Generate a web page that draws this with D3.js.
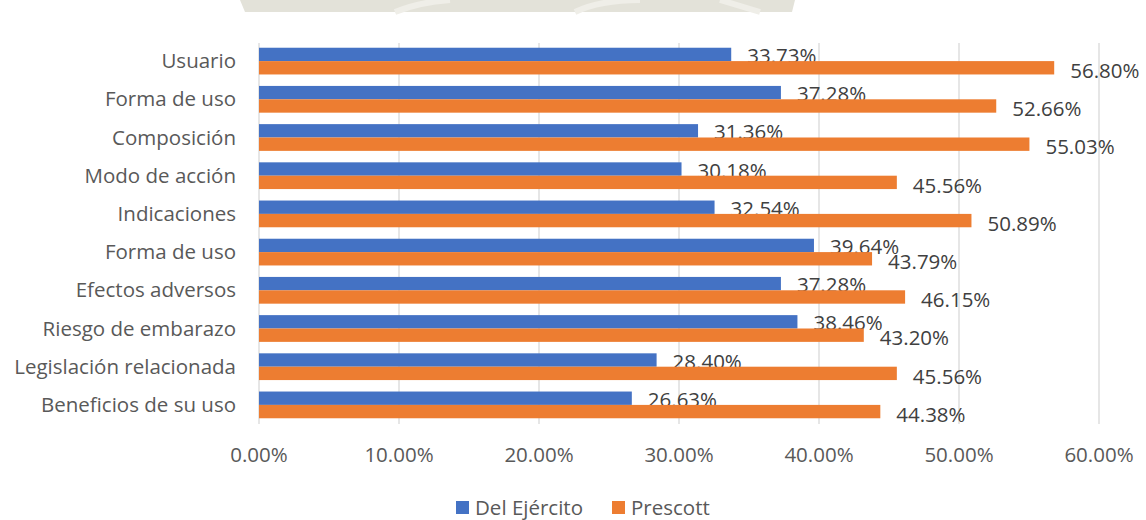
<!DOCTYPE html>
<html>
<head>
<meta charset="utf-8">
<script src="https://cdn.jsdelivr.net/npm/d3@7"></script>
<style>
  body { margin: 0; background: #fff; }
  svg text { font-family: "Open Sans", "Noto Sans", sans-serif; }
</style>
</head>
<body>
<svg id="chart"></svg>
<script>
const categories = ["Usuario", "Forma de uso", "Composición", "Modo de acción", "Indicaciones",
    "Forma de uso ", "Efectos adversos", "Riesgo de embarazo", "Legislación relacionada", "Beneficios de su uso"];
const delEjercito = [33.73, 37.28, 31.36, 30.18, 32.54, 39.64, 37.28, 38.46, 28.40, 26.63];
const prescott = [56.80, 52.66, 55.03, 45.56, 50.89, 43.79, 46.15, 43.20, 45.56, 44.38];
const seriesNames = ["Del Ejército", "Prescott"];
const xTicks = [0, 10, 20, 30, 40, 50, 60];

document.addEventListener("DOMContentLoaded", drawChart);

function drawChart() {
    const width = 1146;
    const height = 520;
    const colors = ["#4472c4", "#ed7d31"];
    const fontSize = 20.5;

    const svg = d3.select("svg#chart")
        .attr("width", width)
        .attr("height", height);

    // marca de agua arriba
    const wm = svg.append("g");
    wm.append("path")
        .attr("d", "M240,0 L795,0 L792,12 L245,12 Z")
        .attr("fill", "#e3e2d9");
    wm.append("path")
        .attr("d", "M395,12 Q420,2 450,0 M575,12 Q600,0 640,0 M720,0 Q740,6 760,12")
        .attr("stroke", "#efeee8")
        .attr("stroke-width", 6)
        .attr("fill", "none");

    const x = d3.scaleLinear()
        .domain([0, 60])
        .range([259, 1099]);

    const y = d3.scaleBand()
        .domain(categories)
        .range([42, 424])
        .paddingInner(0.3)
        .paddingOuter(0.15);

    const inner = d3.scaleBand()
        .domain([0, 1])
        .range([0, y.bandwidth()]);

    // líneas de cuadrícula
    svg.append("g")
        .selectAll("line")
        .data(xTicks)
        .join("line")
        .attr("x1", d => x(d))
        .attr("x2", d => x(d))
        .attr("y1", 43)
        .attr("y2", 424)
        .attr("stroke", "#d9d9d9")
        .attr("stroke-width", 1.3);

    const series = [delEjercito, prescott];

    series.forEach((vals, s) => {
        const g = svg.append("g");
        g.selectAll("rect")
            .data(vals)
            .join("rect")
            .attr("x", x(0))
            .attr("y", (d, i) => y(categories[i]) + inner(s))
            .attr("width", d => x(d) - x(0))
            .attr("height", inner.bandwidth())
            .attr("fill", colors[s]);

        g.selectAll("text")
            .data(vals)
            .join("text")
            .attr("x", d => x(d) + 16)
            .attr("y", (d, i) => y(categories[i]) + inner(s) + inner.bandwidth() / 2 + (s === 0 ? 1.5 : 3))
            .attr("dy", "0.35em")
            .attr("font-size", fontSize)
            .attr("fill", "#404040")
            .text(d => d.toFixed(2) + "%");
    });

    // etiquetas de categorías
    svg.append("g")
        .selectAll("text")
        .data(categories)
        .join("text")
        .attr("x", 236)
        .attr("y", d => y(d) + y.bandwidth() / 2)
        .attr("dy", "0.35em")
        .attr("text-anchor", "end")
        .attr("font-size", fontSize)
        .attr("fill", "#595959")
        .text(d => d.trim());

    // eje x
    svg.append("g")
        .selectAll("text")
        .data(xTicks)
        .join("text")
        .attr("x", d => x(d))
        .attr("y", 455)
        .attr("dy", "0.35em")
        .attr("text-anchor", "middle")
        .attr("font-size", fontSize)
        .attr("fill", "#595959")
        .text(d => d.toFixed(2) + "%");

    // leyenda
    const legendX = [456, 612];
    const legend = svg.append("g");
    seriesNames.forEach((name, i) => {
        legend.append("rect")
            .attr("x", legendX[i])
            .attr("y", 501)
            .attr("width", 13)
            .attr("height", 13)
            .attr("fill", colors[i]);
        legend.append("text")
            .attr("x", legendX[i] + 19)
            .attr("y", 508)
            .attr("dy", "0.35em")
            .attr("font-size", fontSize)
            .attr("fill", "#595959")
            .text(name);
    });
}
</script>
</body>
</html>
